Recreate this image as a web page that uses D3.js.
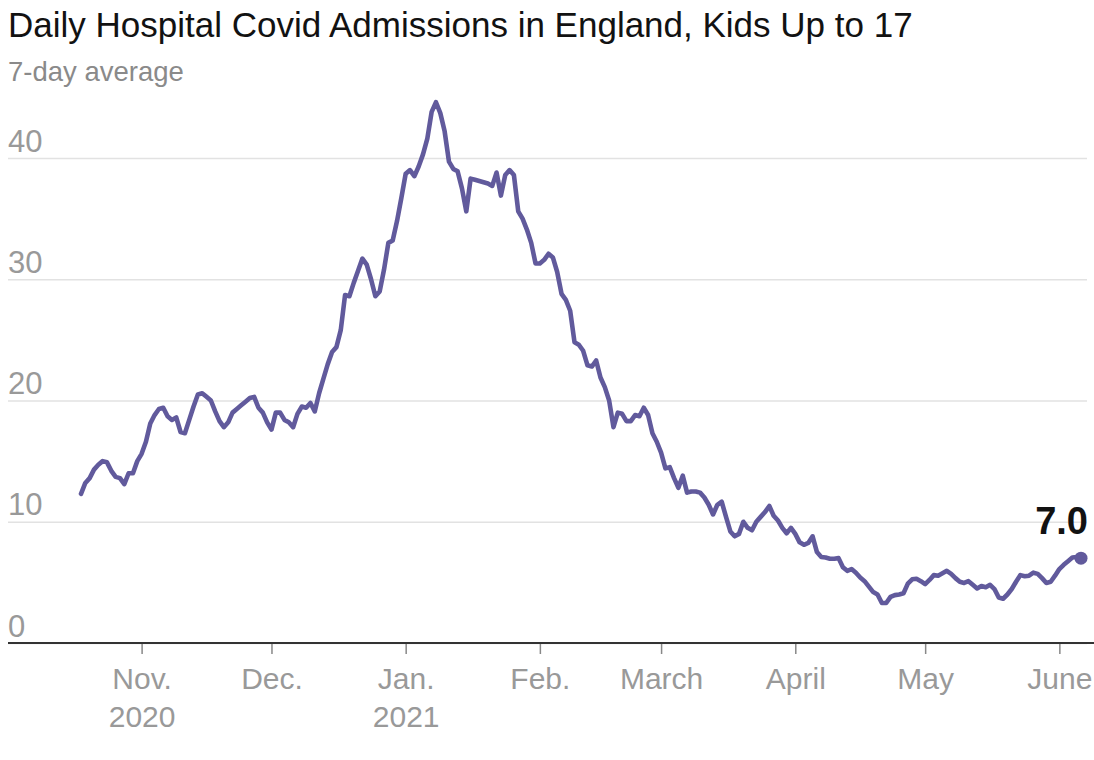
<!DOCTYPE html>
<html>
<head>
<meta charset="utf-8">
<script src="https://cdn.jsdelivr.net/npm/d3@7"></script>
<style>
  body { margin: 0; background: #fff; }
  svg { display: block; font-family: "Liberation Sans", Arial, sans-serif; }
  .title { font-size: 35px; fill: #121212; }
  .subtitle { font-size: 27.5px; fill: #8a8a8a; }
  .tick text { font-size: 30px; fill: #999; }
  .grid line { stroke: #e2e2e2; stroke-width: 1.5; }
  .line-path { fill: none; stroke: #615a9c; stroke-width: 4.6; stroke-linejoin: round; stroke-linecap: round; }
  .last-label { font-size: 38px; font-weight: bold; fill: #121212; }
</style>
</head>
<body>
<svg width="1094" height="760"></svg>
<script>
const svg = d3.select('svg');
const width = +svg.attr('width');
const height = +svg.attr('height');

// daily 7-day average, Oct 18 2020 -> June 6 2021
const startDate = '2020-10-18';
const admissions = [
  12.3, 13.2, 13.6, 14.3, 14.7, 15.0, 14.9, 14.2, 13.7, 13.6,
  13.1, 14.0, 14.0, 15.0, 15.6, 16.6, 18.1, 18.8, 19.3, 19.4,
  18.7, 18.4, 18.6, 17.4, 17.3, 18.4, 19.5, 20.5, 20.6, 20.3,
  20.0, 19.1, 18.3, 17.8, 18.2, 19.0, 19.3, 19.6, 19.9, 20.2,
  20.3, 19.4, 19.0, 18.2, 17.6, 19.0, 19.0, 18.4, 18.2, 17.8,
  18.9, 19.5, 19.4, 19.8, 19.1, 20.6, 21.8, 23.0, 24.0, 24.4,
  25.8, 28.7, 28.6, 29.7, 30.7, 31.7, 31.2, 30.0, 28.6, 29.0,
  30.8, 33.0, 33.2, 34.8, 36.7, 38.7, 39.0, 38.5, 39.3, 40.3,
  41.6, 43.8, 44.6, 43.7, 42.2, 39.7, 39.1, 38.9, 37.5, 35.6,
  38.3, 38.2, 38.1, 38.0, 37.9, 37.7, 38.8, 36.9, 38.6, 39.0,
  38.6, 35.6, 35.0, 34.1, 33.0, 31.3, 31.3, 31.6, 32.1, 31.8,
  30.6, 28.8, 28.3, 27.4, 24.8, 24.6, 24.1, 22.9, 22.8, 23.3,
  21.9, 21.1, 20.0, 17.8, 19.0, 18.9, 18.3, 18.3, 18.8, 18.7,
  19.4, 18.8, 17.3, 16.6, 15.7, 14.4, 14.5, 13.6, 12.8, 13.8,
  12.4, 12.5, 12.5, 12.4, 12.0, 11.4, 10.6, 11.4, 11.65, 10.4,
  9.2, 8.8, 9.0, 10.0, 9.5, 9.3, 10.0, 10.4, 10.8, 11.3,
  10.5, 10.1, 9.5, 9.05, 9.5, 9.0, 8.3, 8.1, 8.25, 8.8,
  7.5, 7.1, 7.05, 6.95, 6.95, 7.0, 6.25, 5.95, 6.1, 5.8,
  5.4, 5.1, 4.65, 4.2, 4.0, 3.3, 3.3, 3.8, 3.95, 4.0,
  4.1, 4.9, 5.25, 5.3, 5.1, 4.85, 5.2, 5.6, 5.55, 5.75,
  5.95, 5.7, 5.35, 5.05, 4.95, 5.1, 4.8, 4.5, 4.7, 4.6,
  4.8, 4.45, 3.75, 3.65, 4.0, 4.45, 5.05, 5.6, 5.5, 5.55,
  5.8, 5.7, 5.35, 4.95, 5.05, 5.55, 6.1, 6.45, 6.75, 7.05,
  7.1, 7.0
];

const yTicks = [0, 10, 20, 30, 40];
const monthTicks = ['2020-11-01', '2020-12-01', '2021-01-01', '2021-02-01',
                    '2021-03-01', '2021-04-01', '2021-05-01', '2021-06-01'];
const monthLabels = ['Nov.', 'Dec.', 'Jan.', 'Feb.', 'March', 'April', 'May', 'June'];
const yearLabels = ['2020', '', '2021', '', '', '', '', ''];

const parse = d3.utcParse('%Y-%m-%d');
const start = parse(startDate);
const data = admissions.map((v, i) => ({ date: d3.utcDay.offset(start, i), value: v }));

const xValue = d => d.date;
const yValue = d => d.value;

const margin = { left: 8, right: 0, top: 158, bottom: 117 };
const plotLeft = margin.left;
const plotRight = width - margin.right;
const baseline = height - margin.bottom;

const xScale = d3.scaleUtc()
  .domain(d3.extent(data, xValue))
  .range([81, 1081]);

const yScale = d3.scaleLinear()
  .domain([0, 40])
  .range([baseline, margin.top]);

// title
svg.append('text')
  .attr('class', 'title')
  .attr('x', 8)
  .attr('y', 37)
  .text('Daily Hospital Covid Admissions in England, Kids Up to 17');

svg.append('text')
  .attr('class', 'subtitle')
  .attr('x', 8)
  .attr('y', 81)
  .text('7-day average');

// y gridlines + labels
const yAxis = d3.axisLeft(yScale)
  .tickValues(yTicks)
  .tickSize(-(1087 - plotLeft))
  .tickFormat(d3.format('d'));

const yAxisG = svg.append('g')
  .attr('class', 'grid')
  .attr('transform', `translate(${plotLeft},0)`)
  .call(yAxis);

yAxisG.select('.domain').remove();
yAxisG.selectAll('.tick text')
  .attr('x', 0)
  .attr('dy', -7)
  .attr('text-anchor', 'start')
  .style('font-size', '31px');

// x axis
const xAxis = d3.axisBottom(xScale)
  .tickValues(monthTicks.map(parse))
  .tickSize(11)
  .tickPadding(0)
  .tickFormat((d, i) => monthLabels[i]);

const xAxisG = svg.append('g')
  .attr('transform', `translate(0,${baseline})`)
  .call(xAxis);

xAxisG.select('.domain').remove();
xAxisG.selectAll('.tick line').attr('stroke', '#888').attr('stroke-width', 1.5);
xAxisG.selectAll('.tick text')
  .attr('dy', null)
  .attr('y', 46);

xAxisG.selectAll('.tick')
  .append('text')
  .attr('y', 84)
  .attr('text-anchor', 'middle')
  .attr('fill', '#999')
  .text((d, i) => yearLabels[i]);

svg.append('line')
  .attr('x1', plotLeft)
  .attr('x2', plotRight)
  .attr('y1', baseline)
  .attr('y2', baseline)
  .attr('stroke', '#333')
  .attr('stroke-width', 2);

// line
const lineGenerator = d3.line()
  .x(d => xScale(xValue(d)))
  .y(d => yScale(yValue(d)));

svg.append('path')
  .attr('class', 'line-path')
  .attr('d', lineGenerator(data));

const last = data[data.length - 1];
svg.append('circle')
  .attr('cx', xScale(last.date))
  .attr('cy', yScale(last.value))
  .attr('r', 6.5)
  .attr('fill', '#615a9c');

svg.append('text')
  .attr('class', 'last-label')
  .attr('x', 1088)
  .attr('y', 534)
  .attr('text-anchor', 'end')
  .text(d3.format('.1f')(last.value));
</script>
</body>
</html>
